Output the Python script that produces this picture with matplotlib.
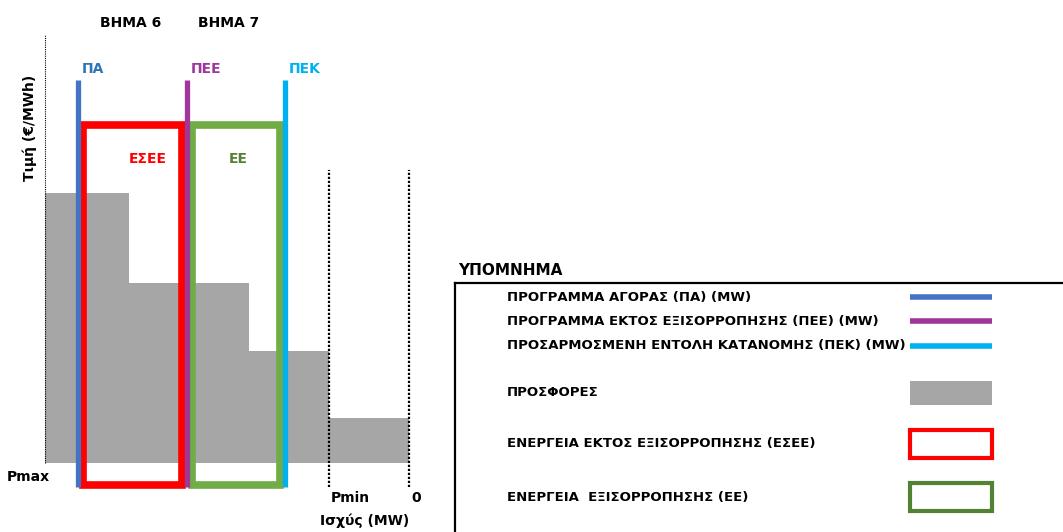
import matplotlib.pyplot as plt
from matplotlib.patches import Rectangle

plt.rcParams['font.family'] = ['DejaVu Sans']
plt.rcParams['font.weight'] = 'bold'

# offers (step curve): power blocks from Pmax (left) down to 0 (right)
block_lo = [77, 44, 22, 0]
block_hi = [100, 77, 44, 22]
block_price = [60, 40, 25, 10]
p_max, p_min = 100, 22

# schedules (MW)
sched_names = ['ΠΑ', 'ΠΕΕ', 'ΠΕΚ']
sched_mw = [91, 61, 34]
sched_colors = ['#4472C4', '#A0369C', '#00B0F0']
sched_text_colors = ['#2E75B6', '#A0369C', '#00B0F0']

# energy boxes
box_names = ['ΕΣΕΕ', 'ΕΕ']
box_from = [91, 61]
box_to = [61, 34]
box_text_x = [71.7, 47]
box_colors = ['#FF0000', '#70AD47']
box_text_colors = ['#FF0000', '#548235']

step_labels = ['ΒΗΜΑ 6', 'ΒΗΜΑ 7']
step_x = [76.4, 49.5]

legend_labels = [
    'ΠΡΟΓΡΑΜΜΑ ΑΓΟΡΑΣ (ΠΑ) (MW)',
    'ΠΡΟΓΡΑΜΜΑ ΕΚΤΟΣ ΕΞΙΣΟΡΡΟΠΗΣΗΣ (ΠΕΕ) (MW)',
    'ΠΡΟΣΑΡΜΟΣΜΕΝΗ ΕΝΤΟΛΗ ΚΑΤΑΝΟΜΗΣ (ΠΕΚ) (MW)',
    'ΠΡΟΣΦΟΡΕΣ',
    'ΕΝΕΡΓΕΙΑ ΕΚΤΟΣ ΕΞΙΣΟΡΡΟΠΗΣΗΣ (ΕΣΕΕ)',
    'ΕΝΕΡΓΕΙΑ  ΕΞΙΣΟΡΡΟΠΗΣΗΣ (ΕΕ)',
]
legend_y = [14, 38, 63, 110, 161, 214]

GREY = '#A6A6A6'
FS = 10

fig = plt.figure(figsize=(10.63, 5.32), dpi=100)
ax = fig.add_axes([0, 0, 450 / 1063, 1])
ax.set_xlim(409 / 3.64, (409 - 450) / 3.64)
ax.set_ylim(-69 / 4.5, 463 / 4.5)
ax.axis('off')

# offers
widths = [h - l for l, h in zip(block_lo, block_hi)]
ax.bar(block_lo, block_price, width=widths, align='edge', color=GREY, zorder=1)

# axis & limit lines
ax.plot([p_max, p_max], [0, 95], color='black', lw=0.8, ls=(0, (1, 1)), zorder=2)
for xv in [p_min, 0]:
    ax.plot([xv, xv], [-5.3, 65], color='black', lw=1.6, ls=(0, (1, 0.8)), zorder=2)

inset = 1.5
# ESEE box, then PA / PEE lines, then EE box, then PEK line
def draw_box(i):
    x0 = box_from[i] - inset
    x1 = box_to[i] + inset
    ax.add_patch(Rectangle((x1, -4.8), x0 - x1, 75 + 4.8, fill=False,
                           ec=box_colors[i], lw=5.5, zorder=3, joinstyle='miter'))
    ax.text(box_text_x[i], 67.5, box_names[i], color=box_text_colors[i],
            fontsize=FS, ha='center', va='center')

draw_box(0)
for i in range(2):
    ax.plot([sched_mw[i], sched_mw[i]], [-5.3, 85], color=sched_colors[i],
            lw=3.8, solid_capstyle='butt', zorder=4)
draw_box(1)
ax.plot([sched_mw[2], sched_mw[2]], [-5.3, 85], color=sched_colors[2],
        lw=3.8, solid_capstyle='butt', zorder=4)

for name, xv, c in zip(sched_names, sched_mw, sched_text_colors):
    ax.text(xv - 1, 87.5, name, color=c, fontsize=FS, ha='left', va='center')

for lab, xv in zip(step_labels, step_x):
    ax.text(xv, 97.8, lab, fontsize=FS, ha='center', va='center')

ax.text(104.7, -3.1, 'Pmax', fontsize=FS, ha='center', va='center')
ax.text(16.2, -7.8, 'Pmin', fontsize=FS, ha='center', va='center')
ax.text(-1.9, -7.8, '0', fontsize=FS, ha='center', va='center')
ax.text(12.1, -12.9, 'Ισχύς (MW)', fontsize=FS, ha='center', va='center')
ax.text(104.1, 74.4, 'Τιμή (€/MWh)', fontsize=FS, ha='center', va='center',
        rotation=90)

# legend panel
lax = fig.add_axes([455 / 1063, 0, 1 - 455 / 1063, 249 / 532])
lax.set_xlim(0, 608)
lax.set_ylim(249, 0)
lax.set_xticks([])
lax.set_yticks([])
for s in ['right', 'bottom']:
    lax.spines[s].set_visible(False)
for s in ['left', 'top']:
    lax.spines[s].set_linewidth(1.6)

lax.text(3, -13, 'ΥΠΟΜΝΗΜΑ', fontsize=FS + 1, ha='left', va='center', clip_on=False)
for lab, yv in zip(legend_labels, legend_y):
    lax.text(52, yv, lab, fontsize=FS - 0.5, ha='left', va='center')

for i in range(3):
    lax.plot([455, 537], [legend_y[i], legend_y[i]], color=sched_colors[i], lw=4,
             solid_capstyle='butt')
lax.add_patch(Rectangle((455, legend_y[3] - 12), 82, 24, color=GREY, lw=0))
lax.add_patch(Rectangle((455, legend_y[4] - 14), 82, 28, fill=False,
                        ec=box_colors[0], lw=3, joinstyle='miter'))
lax.add_patch(Rectangle((455, legend_y[5] - 14), 82, 28, fill=False,
                        ec='#548235', lw=3, joinstyle='miter'))

fig.savefig('out.png', dpi=100)
